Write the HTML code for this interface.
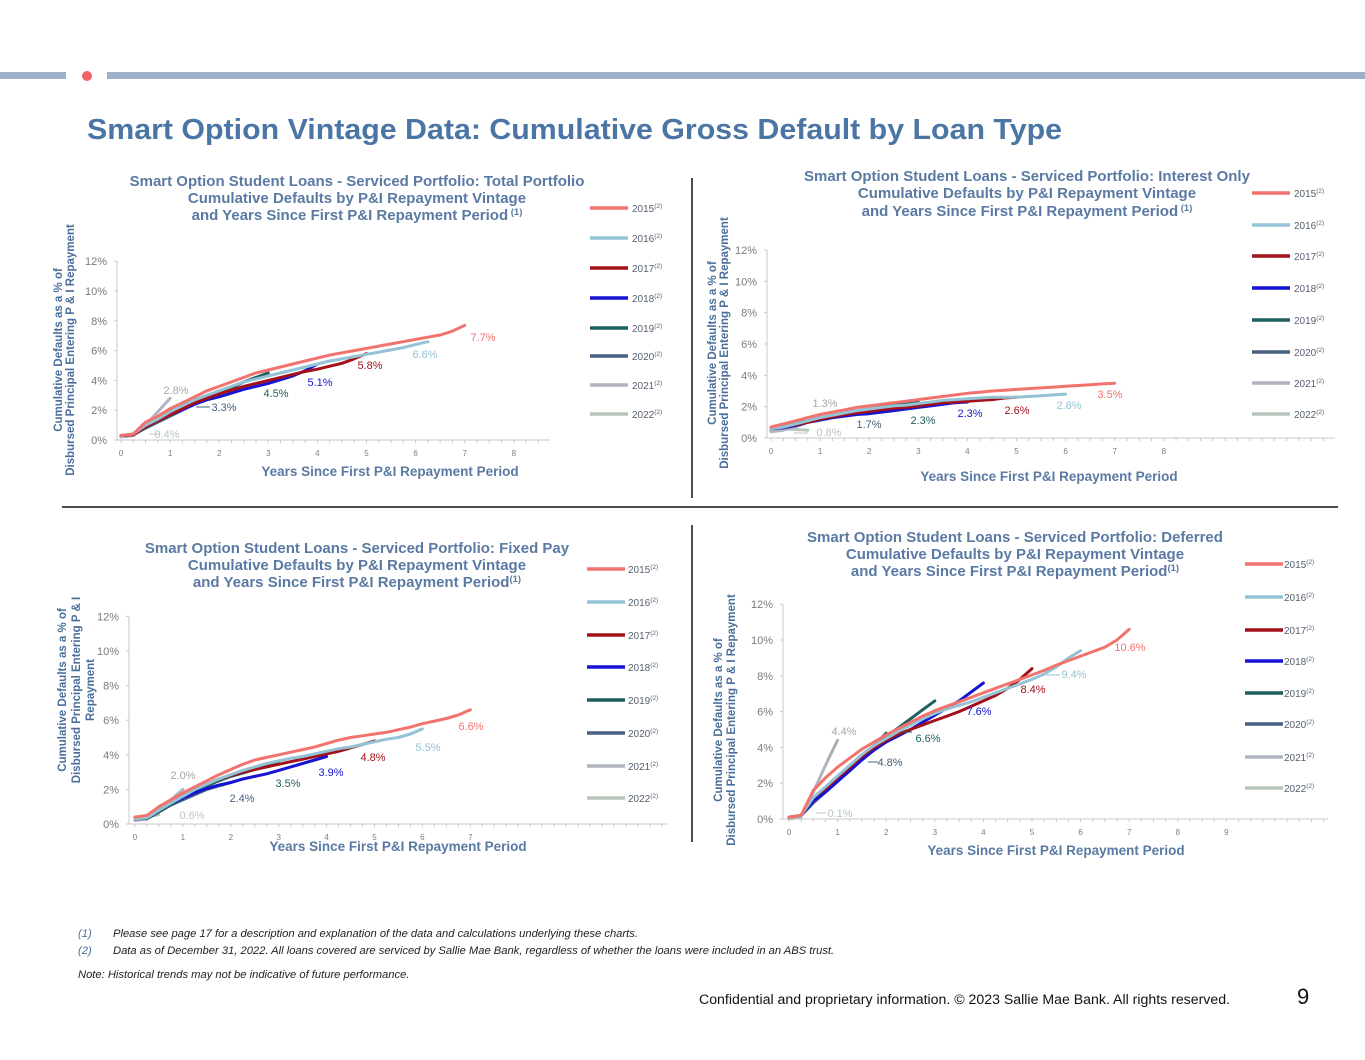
<!DOCTYPE html>
<html><head><meta charset="utf-8">
<style>
html,body{margin:0;padding:0;background:#fff;}
body{width:1365px;height:1055px;overflow:hidden;position:relative;font-family:"Liberation Sans",sans-serif;}
svg text{font-family:"Liberation Sans",sans-serif;}
.fn{position:absolute;font-style:italic;font-size:11.2px;color:#222;}
</style></head>
<body>
<svg id="page" width="1365" height="1055" viewBox="0 0 1365 1055" xmlns="http://www.w3.org/2000/svg">
  <rect x="0" y="72" width="66" height="7" fill="#9cb0c9"/>
  <circle cx="87" cy="76" r="5" fill="#f06464"/>
  <rect x="107" y="72" width="1258" height="7" fill="#9cb0c9"/>
  <text x="87" y="139" font-size="29" font-weight="bold" fill="#4a75a5" textLength="975" lengthAdjust="spacingAndGlyphs">Smart Option Vintage Data: Cumulative Gross Default by Loan Type</text>
  <line x1="692" y1="178" x2="692" y2="498" stroke="#111" stroke-width="1.5"/>
  <line x1="692" y1="525" x2="692" y2="842" stroke="#111" stroke-width="1.5"/>
  <line x1="62" y1="507" x2="1338" y2="507" stroke="#111" stroke-width="1.5"/>
  <g id="charts"></g>
  <text x="699" y="1004" font-size="13.5" fill="#111" textLength="531" lengthAdjust="spacingAndGlyphs">Confidential and proprietary information. © 2023 Sallie Mae Bank. All rights reserved.</text>
  <text x="1297" y="1004" font-size="22" fill="#111">9</text>
</svg>
<div class="fn" style="left:78px;top:928px;"><span style="color:#4a6f9a;display:inline-block;width:35px;">(1)</span>Please see page 17 for a description and explanation of the data and calculations underlying these charts.</div>
<div class="fn" style="left:78px;top:945px;"><span style="color:#4a6f9a;display:inline-block;width:35px;">(2)</span>Data as of December 31, 2022. All loans covered are serviced by Sallie Mae Bank, regardless of whether the loans were included in an ABS trust.</div>
<div class="fn" style="left:78px;top:969px;">Note: Historical trends may not be indicative of future performance.</div>
<script>
// Shared categories / ticks
const vintages = ['2015','2016','2017','2018','2019','2020','2021','2022'];
const yTickLabels = ['0%','2%','4%','6%','8%','10%','12%'];
const yTickValues = [0,2,4,6,8,10,12];
const xStep = 0.25; // data sampled every quarter year

// Chart 1: Total Portfolio (values % at x=0,0.25,0.5,...)
const total2015 = [0.3,0.4,1.2,1.6,2.1,2.5,2.9,3.3,3.6,3.9,4.2,4.5,4.7,4.9,5.1,5.3,5.5,5.7,5.85,6.0,6.15,6.3,6.45,6.6,6.75,6.9,7.05,7.3,7.7];
const total2016 = [0.3,0.4,1.0,1.4,1.9,2.3,2.7,3.0,3.3,3.6,3.9,4.1,4.3,4.5,4.7,4.9,5.1,5.3,5.45,5.6,5.75,5.9,6.05,6.2,6.4,6.6];
const total2017 = [0.3,0.35,0.9,1.3,1.7,2.1,2.5,2.8,3.1,3.35,3.6,3.8,4.0,4.2,4.4,4.6,4.75,4.95,5.15,5.45,5.8];
const total2018 = [0.3,0.35,0.9,1.3,1.7,2.05,2.4,2.7,2.9,3.15,3.4,3.6,3.8,4.05,4.3,4.65,5.1];
const total2019 = [0.3,0.35,0.9,1.3,1.7,2.1,2.5,2.8,3.1,3.5,3.9,4.2,4.5];
const total2020 = [0.3,0.35,0.8,1.2,1.6,2.0,2.4,2.8,3.3];
const total2021 = [0.2,0.3,1.0,1.9,2.8];
const total2022 = [0.3,0.4];
const totalLabels = ['7.7%','6.6%','5.8%','5.1%','4.5%','3.3%','2.8%','0.4%'];

// Chart 2: Interest Only
const io2015 = [0.7,0.9,1.1,1.3,1.5,1.65,1.8,1.95,2.05,2.15,2.25,2.35,2.45,2.55,2.65,2.75,2.85,2.92,3.0,3.05,3.1,3.15,3.2,3.25,3.3,3.35,3.4,3.45,3.5];
const io2016 = [0.6,0.7,0.9,1.1,1.3,1.45,1.6,1.75,1.85,1.95,2.05,2.1,2.2,2.3,2.4,2.45,2.5,2.55,2.6,2.6,2.6,2.65,2.7,2.75,2.8];
const io2017 = [0.6,0.7,0.85,1.0,1.2,1.35,1.5,1.6,1.7,1.8,1.9,1.95,2.05,2.15,2.25,2.3,2.35,2.4,2.45,2.55,2.6];
const io2018 = [0.6,0.65,0.8,1.0,1.15,1.3,1.4,1.5,1.55,1.65,1.75,1.85,1.95,2.05,2.15,2.25,2.3];
const io2019 = [0.6,0.8,0.95,1.1,1.3,1.45,1.6,1.75,1.85,2.0,2.1,2.2,2.3];
const io2020 = [0.6,0.65,0.8,1.0,1.15,1.3,1.45,1.55,1.7];
const io2021 = [0.4,0.5,0.7,1.0,1.3];
const io2022 = [0.5,0.6,0.55,0.5];
const ioLabels = ['3.5%','2.8%','2.6%','2.3%','2.3%','1.7%','1.3%','0.8%'];

// Chart 3: Fixed Pay
const fp2015 = [0.4,0.5,1.0,1.4,1.8,2.15,2.5,2.85,3.15,3.45,3.7,3.85,4.0,4.15,4.3,4.45,4.65,4.85,5.0,5.1,5.2,5.3,5.45,5.6,5.8,5.95,6.1,6.3,6.6];
const fp2016 = [0.3,0.35,0.8,1.2,1.6,2.0,2.3,2.6,2.85,3.1,3.3,3.5,3.65,3.8,3.9,4.05,4.2,4.35,4.45,4.6,4.75,4.9,5.0,5.2,5.5];
const fp2017 = [0.3,0.35,0.9,1.3,1.7,2.0,2.3,2.6,2.8,3.0,3.15,3.3,3.45,3.6,3.75,3.9,4.05,4.2,4.4,4.6,4.8];
const fp2018 = [0.3,0.35,0.8,1.2,1.5,1.8,2.05,2.25,2.4,2.6,2.75,2.9,3.1,3.3,3.5,3.7,3.9];
const fp2019 = [0.3,0.3,0.7,1.1,1.5,1.85,2.2,2.5,2.75,2.95,3.15,3.35,3.5];
const fp2020 = [0.4,0.4,0.8,1.1,1.4,1.7,2.0,2.2,2.4];
const fp2021 = [0.2,0.3,0.9,1.4,2.0];
const fp2022 = [0.3,0.4,0.55];
const fpLabels = ['6.6%','5.5%','4.8%','3.9%','3.5%','2.4%','2.0%','0.6%'];

// Chart 4: Deferred
const df2015 = [0.1,0.2,1.6,2.3,2.9,3.4,3.9,4.3,4.7,5.05,5.4,5.75,6.05,6.3,6.55,6.8,7.05,7.3,7.55,7.8,8.05,8.3,8.6,8.85,9.1,9.35,9.6,10.0,10.6];
const df2016 = [0.1,0.2,1.2,1.8,2.4,3.0,3.6,4.1,4.5,4.9,5.25,5.6,5.9,6.15,6.35,6.55,6.8,7.05,7.3,7.55,7.8,8.1,8.5,9.0,9.4];
const df2017 = [0.1,0.2,1.2,1.7,2.3,2.9,3.5,4.0,4.4,4.75,5.0,5.25,5.5,5.75,6.0,6.3,6.6,6.9,7.3,7.8,8.4];
const df2018 = [0.1,0.2,1.0,1.5,2.1,2.7,3.3,3.85,4.3,4.65,5.0,5.4,5.8,6.2,6.6,7.1,7.6];
const df2019 = [0.1,0.2,1.0,1.6,2.3,2.9,3.5,4.0,4.6,5.1,5.6,6.1,6.6];
const df2020 = [0.1,0.2,0.9,1.5,2.1,2.8,3.5,4.1,4.8];
const df2021 = [0.1,0.2,1.5,3.0,4.4];
const df2022 = [0.0,0.1];
const dfLabels = ['10.6%','9.4%','8.4%','7.6%','6.6%','4.8%','4.4%','0.1%'];

// Styles (not data)
const colors = ['#f2736e','#93c3d4','#a3101a','#1414d2','#1f5e5f','#45617f','#b0b4c0','#b8c5bb'];
const labelColors = ['#f2736e','#93c3d4','#a3101a','#1414d2','#1f5e5f','#45617f','#a6a6a6','#b8c8bb'];
const NS = 'http://www.w3.org/2000/svg';
const root = document.getElementById('charts');
function el(tag, attrs, parent){const e=document.createElementNS(NS,tag);for(const k in attrs)e.setAttribute(k,attrs[k]);(parent||root).appendChild(e);return e;}

const charts = [
 {key:'total', series:[total2015,total2016,total2017,total2018,total2019,total2020,total2021,total2022], labels:totalLabels,
  x0:121, pxYear:49.1, y0:440, pxPct:14.9, axisL:117, axisR:550, xMax:8,
  title:['Smart Option Student Loans - Serviced Portfolio: Total Portfolio','Cumulative Defaults by P&I Repayment Vintage','and Years Since First P&I Repayment Period'], sup:' (1)', tx:357, ty:[186,203,220],
  xt:[390,476], yt:{x:[62,74],cy:350,lines:['Cumulative Defaults as a % of','Disbursed Principal  Entering P & I Repayment']},
  leg:{x:590,tx:632,ys:[208,238,268,298,328,356,385,414]},
  lab:[[483,341],[425,358],[370,369],[320,386],[276,397],[224,411],[176,394],[167,438]],
  leaders:[[5,196,407,210,407],[7,149,434,160,434]]},
 {key:'io', series:[io2015,io2016,io2017,io2018,io2019,io2020,io2021,io2022], labels:ioLabels,
  x0:771, pxYear:49.1, y0:438, pxPct:15.67, axisL:767, axisR:1335, xMax:8,
  title:['Smart Option Student Loans - Serviced Portfolio: Interest Only','Cumulative Defaults by P&I Repayment Vintage','and Years Since First P&I Repayment Period'], sup:' (1)', tx:1027, ty:[181,198,216],
  xt:[1049,481], yt:{x:[716,728],cy:343,lines:['Cumulative Defaults as a % of','Disbursed Principal  Entering P & I Repayment']},
  leg:{x:1252,tx:1294,ys:[193,225,256,288,320,352,383,414]},
  lab:[[1110,398],[1069,409],[1017,414],[970,417],[923,424],[869,428],[825,407],[829,436]],
  leaders:[[7,794,433,808,433]]},
 {key:'fp', series:[fp2015,fp2016,fp2017,fp2018,fp2019,fp2020,fp2021,fp2022], labels:fpLabels,
  x0:135, pxYear:47.9, y0:824, pxPct:17.3, axisL:129, axisR:668, xMax:7,
  title:['Smart Option Student Loans - Serviced Portfolio: Fixed Pay','Cumulative Defaults by P&I Repayment Vintage',' and Years Since First P&I Repayment Period'], sup:'(1)', tx:357, ty:[553,570,587],
  xt:[398,851], yt:{x:[66,80,94],cy:690,lines:['Cumulative Defaults as a % of','Disbursed Principal  Entering P & I','Repayment']},
  leg:{x:587,tx:628,ys:[569,602,635,667,700,733,766,798]},
  lab:[[471,730],[428,751],[373,761],[331,776],[288,787],[242,802],[183,779],[192,819]],
  leaders:[]},
 {key:'df', series:[df2015,df2016,df2017,df2018,df2019,df2020,df2021,df2022], labels:dfLabels,
  x0:789, pxYear:48.6, y0:819, pxPct:17.9, axisL:783, axisR:1328, xMax:9,
  title:['Smart Option Student Loans - Serviced Portfolio: Deferred','Cumulative Defaults by P&I Repayment Vintage','and Years Since First P&I Repayment Period'], sup:'(1)', tx:1015, ty:[542,559,576],
  xt:[1056,855], yt:{x:[722,735],cy:720,lines:['Cumulative Defaults as a % of','Disbursed Principal  Entering P & I Repayment']},
  leg:{x:1245,tx:1284,ys:[564,597,630,661,693,724,757,788]},
  lab:[[1130,651],[1074,678],[1033,693],[979,715],[928,742],[890,766],[844,735],[840,817]],
  leaders:[[1,1046,675,1060,675],[4,903,732,912,732],[5,868,762,878,762],[7,816,813,826,813],[6,827,760,838,740]]}
];

charts.forEach(c=>{
  const g = el('g',{});
  
  
  const sx = v => c.x0 + v*c.pxYear;
  const sy = v => c.y0 - v*c.pxPct;
  c.title.forEach((t,i)=>{
    const tt = el('text',{x:c.tx,y:c.ty[i],'font-size':15,'font-weight':'bold',fill:'#5a7aa3','text-anchor':'middle'},g);
    
    
    tt.textContent = t;
    if(i===2){const s=el('tspan',{'font-size':9.5,dy:-5},tt);s.textContent=c.sup;}
  });
  const ya = el('line',{x1:c.axisL,y1:sy(12),x2:c.axisL,y2:c.y0,stroke:'#c8c8c8','stroke-width':1},g);
  
  
  const xa = el('line',{x1:c.axisL,y1:c.y0,x2:c.axisR,y2:c.y0,stroke:'#c8c8c8','stroke-width':1},g);
  
  
  yTickValues.forEach((v,i)=>{
    el('line',{x1:c.axisL-3,y1:sy(v),x2:c.axisL,y2:sy(v),stroke:'#c8c8c8'},g);
    const t = el('text',{x:c.axisL-10,y:sy(v)+4,'font-size':11,fill:'#7b7b7b','text-anchor':'end'},g);
    
    
    t.textContent = yTickLabels[i];
  });
  for(let x=c.axisL+(c.x0-c.axisL)%(c.pxYear/4); x<=c.axisR; x+=c.pxYear/4){
    el('line',{x1:x,y1:c.y0,x2:x,y2:c.y0+3,stroke:'#c8c8c8'},g);
  }
  for(let k=0;k<=c.xMax;k++){
    const t = el('text',{x:sx(k),y:c.y0+16,'font-size':8,fill:'#7b7b7b','text-anchor':'middle'},g);
    
    
    t.textContent = String(k);
  }
  const xt = el('text',{x:c.xt[0],y:c.xt[1],'font-size':13.5,'font-weight':'bold',fill:'#5a7aa3','text-anchor':'middle'},g);
  
  
  xt.textContent = 'Years Since First P&I Repayment Period';
  c.yt.lines.forEach((l,i)=>{
    const x=c.yt.x[i];
    const t = el('text',{x:x,y:c.yt.cy,'font-size':11.5,'font-weight':'bold',fill:'#4a6f9a','text-anchor':'middle',transform:`rotate(-90 ${x} ${c.yt.cy})`},g);
    
    
    t.textContent = l;
  });
  for(let i=c.series.length-1;i>=0;i--){
    const vals=c.series[i];
    const d = vals.map((v,j)=>(j?'L':'M')+sx(j*xStep).toFixed(1)+' '+sy(v).toFixed(1)).join(' ');
    const p = el('path',{d:d,fill:'none',stroke:colors[i],'stroke-width':3,'stroke-linejoin':'round','stroke-linecap':'round'},g);
    
    
  }
  c.leaders.forEach(L=>{ el('line',{x1:L[1],y1:L[2],x2:L[3],y2:L[4],stroke:labelColors[L[0]],'stroke-width':1},g); });
  c.labels.forEach((t,i)=>{
    const tx = el('text',{x:c.lab[i][0],y:c.lab[i][1],'font-size':11,fill:labelColors[i],'text-anchor':'middle'},g);
    
    
    tx.textContent = t;
  });
  vintages.forEach((v,i)=>{
    const y=c.leg.ys[i];
    const lg = el('g',{},g);
    
    
    el('line',{x1:c.leg.x,y1:y,x2:c.leg.x+38,y2:y,stroke:colors[i],'stroke-width':3.5},lg);
    const t = el('text',{x:c.leg.tx,y:y+4,'font-size':10,fill:'#555f6e'},lg);
    t.textContent = v;
    const s = el('tspan',{'font-size':6.5,dy:-4},t); s.textContent='(2)';
  });
});
</script>
</body></html>
